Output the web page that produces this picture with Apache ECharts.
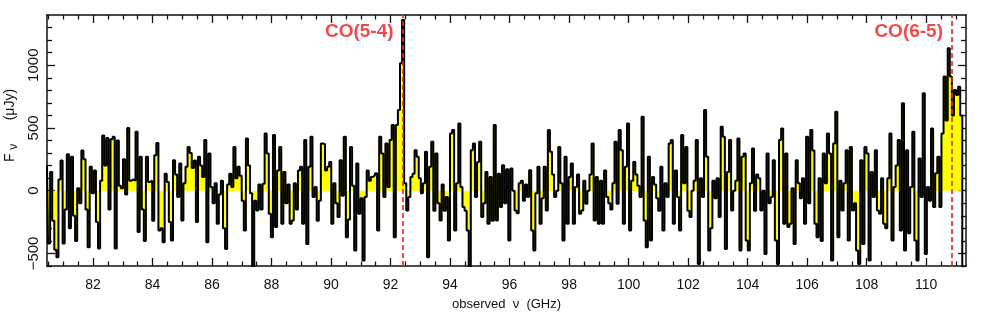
<!DOCTYPE html>
<html><head><meta charset="utf-8">
<script src="https://cdn.jsdelivr.net/npm/echarts@6/dist/echarts.min.js"></script>
<style>html,body{margin:0;padding:0;background:#fff}#c{width:981px;height:317px}</style>
</head><body><div id="c"></div>
<script>
// spectrum channels: first channel frequency (GHz) and channel width (GHz)
const freqStart = 80.45;
const chanWidth = 0.0700;
// flux density per channel (µJy)
const flux = [
200,-420,150,-240,-470,-530,90,240,-420,-150,290,-300,270,-200,-400,20,-100,320,250,-150,-450,190,-20,160,-250,-460,80,440,200,420,-150,410,430,-460,400,40,20,250,-30,500,80,90,80,470,-330,
270,-150,-400,270,70,80,-240,283,380,-317,-300,-410,136,70,-250,-397,243,130,-50,216,-237,60,190,349,300,180,240,-250,270,200,110,403,-410,296,30,-100,60,-263,-30,80,-300,-464,50,136,30,
349,100,190,120,-80,-317,416,200,-20,-650,-80,-157,50,-150,56,456,296,-184,-370,443,-290,160,349,-264,150,-100,50,-264,-237,60,-150,160,190,-264,403,-424,190,430,-50,30,-240,-80,376,370,160,
190,229,-264,60,-100,-210,243,-40,430,-370,-230,349,40,-477,216,-184,-60,-557,-50,160,80,110,123,140,-317,430,296,-50,376,30,403,523,-370,523,643,1016,1360,60,-157,-50,110,136,323,270,100,
-20,60,310,-530,190,390,-160,296,-100,-237,50,-160,-50,-397,456,483,-317,60,536,30,-130,-160,-317,-650,323,376,-50,229,390,-210,-100,150,-264,110,-240,523,-237,136,-130,203,-100,170,-397,176,0,
-157,-180,60,80,-80,50,-50,163,-317,-477,-20,190,-264,-60,190,-157,483,310,130,-50,0,349,60,-397,270,-264,110,216,-264,30,130,-184,-157,80,-104,0,130,376,-237,110,-264,80,-264,160,-50,
-100,-150,60,390,-104,483,323,-264,190,536,-317,80,229,130,40,-50,590,-237,-450,270,-397,110,50,-60,-160,190,-317,60,-50,376,403,-264,160,-50,-317,443,60,349,-160,-210,0,80,403,-584,
100,-50,643,270,-477,-300,80,-60,100,-210,509,430,-464,150,403,-157,0,80,416,-477,270,296,-397,-477,60,336,-160,130,100,-157,0,-504,296,-100,-50,243,-397,-584,403,496,-264,296,-290,-264,20,
-424,243,60,-60,100,-264,430,-100,483,320,-264,-370,100,-400,296,60,456,296,-557,376,629,-370,80,-157,60,323,-397,349,-157,-100,-477,-584,243,-424,349,296,-557,150,-50,323,-157,-184,100,-264,
-300,100,456,-397,30,200,403,-317,696,-477,323,-340,30,469,-397,-557,256,-50,776,-504,30,-80,496,-130,140,270,-130,456,909,560,1136,909,600,803,763,829,600,-650
];
// line identifications
const lineFreqs = [92.40, 110.87];
const lineNames = ['CO(5-4)', 'CO(6-5)'];
// tick values
const xTicksMajor = [82,84,86,88,90,92,94,96,98,100,102,104,106,108,110];
const xTicksMinor = [80.5,81,81.5,82.5,83,83.5,84.5,85,85.5,86.5,87,87.5,88.5,89,89.5,90.5,91,91.5,92.5,93,93.5,94.5,95,95.5,96.5,97,97.5,98.5,99,99.5,100.5,101,101.5,102.5,103,103.5,104.5,105,105.5,106.5,107,107.5,108.5,109,109.5,110.5,111];
const yTicksMajor = [-500,0,500,1000];
const yTicksMinor = [-600,-400,-300,-200,-100,100,200,300,400,600,700,800,900,1100,1200,1300];

const FONT = 'Liberation Sans, Arial, Helvetica, sans-serif';
const X_MIN = 80.45, X_MAX = 111.34, Y_MIN = -600, Y_MAX = 1400;
const LABEL_Y = 1270;

const spec = flux.map((v, i) => [freqStart + i * chanWidth, v]);

function xAx(pos, ticks, len, showLine, showLabel) {
  return {
    type: 'value', position: pos, min: X_MIN, max: X_MAX,
    axisLine: {show: showLine, onZero: false, lineStyle: {color: '#111', width: 1.5}},
    axisTick: {show: true, inside: true, length: len, customValues: ticks, lineStyle: {color: '#111', width: 1.3}},
    axisLabel: {show: showLabel, customValues: ticks, color: '#111', fontSize: 14, fontFamily: FONT, margin: 12},
    splitLine: {show: false}
  };
}
function yAx(pos, ticks, len, showLine, showLabel) {
  return {
    type: 'value', position: pos, min: Y_MIN, max: Y_MAX,
    axisLine: {show: showLine, onZero: false, lineStyle: {color: '#111', width: 1.5}},
    axisTick: {show: true, inside: true, length: len, customValues: ticks, lineStyle: {color: '#111', width: 1.3}},
    axisLabel: {show: showLabel, customValues: ticks, rotate: 90, color: '#111', fontSize: 15, fontFamily: FONT, margin: 6,
      formatter: v => v < 0 ? '\u2212' + (-v) : String(v)},
    splitLine: {show: false}
  };
}

const xAxes = [
  xAx('bottom', xTicksMajor, 8, true, true),
  xAx('bottom', xTicksMinor, 4.5, false, false),
  xAx('top', xTicksMajor, 8, true, false),
  xAx('top', xTicksMinor, 4.5, false, false)
];
xAxes[0].name = 'observed  \u03bd  (GHz)';
xAxes[0].nameLocation = 'middle';
xAxes[0].nameGap = 32;
xAxes[0].nameMoveOverlap = false;
xAxes[0].nameTextStyle = {fontSize: 13, color: '#111', fontFamily: FONT};

const yAxes = [
  yAx('left', yTicksMajor, 8, true, true),
  yAx('left', yTicksMinor, 5, false, false),
  yAx('right', yTicksMajor, 8, true, false),
  yAx('right', yTicksMinor, 5, false, false)
];
yAxes[0].name = '{f|F} {n|\u03bd}      (\u03bcJy)';
yAxes[0].nameLocation = 'middle';
yAxes[0].nameGap = 27;
yAxes[0].nameMoveOverlap = false;
yAxes[0].nameTextStyle = {fontSize: 14, color: '#111', fontFamily: FONT, padding: [0, 0, 0, 30],
  rich: {f: {fontSize: 14, fontFamily: FONT, color: '#111'}, n: {fontSize: 12, fontFamily: FONT, color: '#111', padding: [7, 0, 0, 0]}}};

const chart = echarts.init(document.getElementById('c'), null, {renderer: 'canvas'});
chart.setOption({
  animation: false,
  backgroundColor: '#fff',
  grid: {left: 47, right: 15, top: 15, bottom: 51, containLabel: false, outerBoundsMode: 'none'},
  xAxis: xAxes,
  yAxis: yAxes,
  series: [
    {
      type: 'line', data: spec, step: 'middle', showSymbol: false, symbol: 'none',
      xAxisIndex: 0, yAxisIndex: 0,
      lineStyle: {color: '#000', width: 2.0},
      areaStyle: {color: '#ffff00', opacity: 1, origin: 0},
      z: 2
    },
    {
      type: 'line', data: [], xAxisIndex: 0, yAxisIndex: 0, z: 5,
      markLine: {
        symbol: 'none', silent: true, animation: false,
        lineStyle: {color: '#f22020', type: [5, 3], width: 1.6},
        label: {show: false},
        data: lineFreqs.map(f => ({xAxis: f}))
      }
    },
    {
      type: 'scatter', xAxisIndex: 0, yAxisIndex: 0, symbolSize: 0, z: 6,
      data: lineFreqs.map(f => [f, LABEL_Y]),
      label: {
        show: true, position: 'left', distance: 9,
        formatter: p => lineNames[p.dataIndex],
        color: '#ee1c1c', fontWeight: 'bold', fontSize: 19, fontFamily: FONT
      }
    }
  ]
});
</script>
</body></html>
